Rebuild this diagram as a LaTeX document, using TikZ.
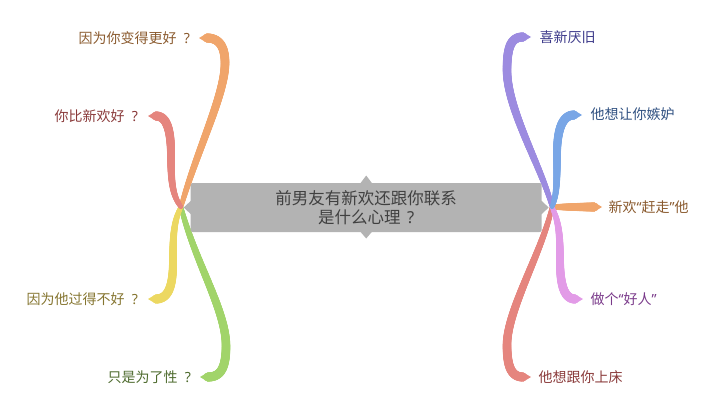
\documentclass[tikz,border=0pt]{standalone}
\usepackage{fontspec}
\setmainfont{Noto Sans CJK SC}
\newfontfamily\latinq{Noto Sans}
\usetikzlibrary{decorations.markings}

\definecolor{boxgray}{HTML}{B3B3B3}
\definecolor{ctext}{HTML}{404040}
\definecolor{bOrange}{HTML}{F0A56B}
\definecolor{bRed}{HTML}{E5857E}
\definecolor{bYellow}{HTML}{ECD861}
\definecolor{bGreen}{HTML}{A1D46A}
\definecolor{bPurple}{HTML}{9C8BE0}
\definecolor{bBlue}{HTML}{79A6E6}
\definecolor{bPink}{HTML}{E29BE7}
\definecolor{tOrange}{HTML}{8A5A2E}
\definecolor{tRed}{HTML}{8A3A3A}
\definecolor{tYellow}{HTML}{857530}
\definecolor{tGreen}{HTML}{4E6B2E}
\definecolor{tPurple}{HTML}{3D3A8A}
\definecolor{tBlue}{HTML}{2E4F80}
\definecolor{tPink}{HTML}{7A3A8A}

\newcommand{\mmbranch}[2]{%
  \path[postaction={decorate}, decoration={markings,
    mark=between positions 0 and 1 step 0.5pt with {%
      \pgfmathsetmacro\mmr{2+2.6*sqrt(\pgfkeysvalueof{/pgf/decoration/mark info/distance from start}/\pgfdecoratedpathlength)}%
      \fill[#1] (0,0) circle[radius=\mmr pt];}}] #2;%
}
\newcommand{\mmtipL}[2]{\fill[#1] (#2) ++(-8,0) -- ++(8,-4.8) -- ++(0,9.6) -- cycle;}
\newcommand{\mmtipR}[2]{\fill[#1] (#2) ++(8,0) -- ++(-8,-4.8) -- ++(0,9.6) -- cycle;}
\newcommand{\mmq}[1]{\hspace{#1em}{\latinq ?}}

\tikzset{
  lbl/.style={font=\fontsize{14pt}{16pt}\selectfont, inner sep=0pt, outer sep=0pt, anchor=west},
  centerbox/.style={fill=boxgray, rounded corners=2pt, minimum width=351pt, minimum height=49pt,
    inner sep=0pt, outer sep=0pt, align=center, text=ctext, font=\fontsize{16.5pt}{19pt}\selectfont},
}

\begin{document}
\begin{tikzpicture}[x=1pt,y=-1pt]
\useasboundingbox (0,0) rectangle (720,418);

% roots and branch ends
\coordinate (rl) at (181,207);
\coordinate (rr) at (552,207);
\coordinate (e1) at (207,38);
\coordinate (e2) at (156,116);
\coordinate (e3) at (156,299);
\coordinate (e4) at (208,377);
\coordinate (e5) at (523,37);
\coordinate (e6) at (574,115);
\coordinate (e7) at (594,207);
\coordinate (e8) at (575,299);
\coordinate (e9) at (523,377);

% left branches
\mmbranch{bOrange}{(rl) .. controls (197,150) and (225,95) .. (225,63) .. controls (225,45) and (218,38) .. (e1)}
\mmtipL{bOrange}{e1}
\mmbranch{bGreen}{(rl) .. controls (195,262) and (226,310) .. (226,346) .. controls (226,369) and (220,377) .. (e4)}
\mmtipL{bGreen}{e4}
\mmbranch{bYellow}{(rl) .. controls (173,222) and (173,240) .. (173,262) .. controls (173,287) and (168,299) .. (e3)}
\mmtipL{bYellow}{e3}
\mmbranch{bRed}{(rl) .. controls (172,195) and (171,180) .. (171,155) .. controls (171,128) and (166,116) .. (e2)}
\mmtipL{bRed}{e2}

% right branches
\mmbranch{bPurple}{(rr) .. controls (543,170) and (507,110) .. (507,70) .. controls (507,45) and (512,37) .. (e5)}
\mmtipR{bPurple}{e5}
\mmbranch{bRed}{(rr) .. controls (543,250) and (507,310) .. (507,345) .. controls (507,368) and (512,377) .. (e9)}
\mmtipR{bRed}{e9}
\mmbranch{bOrange}{(rr) -- (e7)}
\mmtipR{bOrange}{e7}
\mmbranch{bPink}{(rr) .. controls (559,222) and (560,235) .. (560,260) .. controls (560,287) and (565,299) .. (e8)}
\mmtipR{bPink}{e8}
\mmbranch{bBlue}{(rr) .. controls (557,195) and (557,180) .. (557,155) .. controls (557,128) and (563,115) .. (e6)}
\mmtipR{bBlue}{e6}

% central topic
\node[centerbox] (c) at (366.2,207.5) {前男友有新欢还跟你联系\\是什么心理\mmq{0.4}};
\fill[boxgray] (c.north) ++(-6,0.5) -- ++(6,-8) -- ++(6,8) -- cycle;
\fill[boxgray] (c.south) ++(-6,-0.5) -- ++(6,7) -- ++(6,-7) -- cycle;
\fill[boxgray] (c.west) ++(0.5,-7) -- ++(-7.5,7) -- ++(7.5,7) -- cycle;
\fill[boxgray] (c.east) ++(-0.5,-7) -- ++(7.5,7) -- ++(-7.5,7) -- cycle;

% labels
\node[lbl, text=tOrange] (l1) at (78.5,38) {因为你变得更好\mmq{0.53}};
\node[lbl, text=tRed] (l2) at (54.5,116) {你比新欢好\mmq{0.53}};
\node[lbl, text=tYellow] (l3) at (26.5,299) {因为他过得不好\mmq{0.53}};
\node[lbl, text=tGreen] (l4) at (107.5,377) {只是为了性\mmq{0.53}};
\node[lbl, text=tPurple] (r1) at (539.5,37) {喜新厌旧};
\node[lbl, text=tBlue] (r2) at (590.5,114) {他想让你嫉妒};
\node[lbl, text=tOrange] (r3) at (608.5,207) {新欢{\latinq “}赶走{\latinq ”}他};
\node[lbl, text=tPink] (r4) at (590.5,299) {做个{\latinq “}好人{\latinq ”}};
\node[lbl, text=tRed] (r5) at (538.5,377) {他想跟你上床};
\end{tikzpicture}
\end{document}
